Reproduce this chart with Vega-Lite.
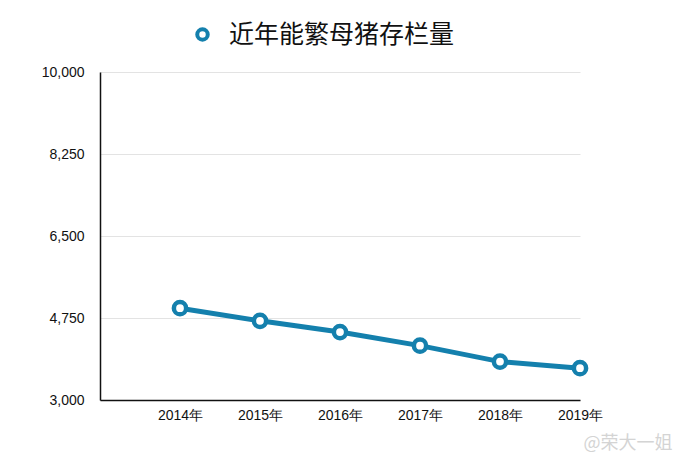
{
  "$schema": "https://vega.github.io/schema/vega-lite/v6.json",
  "background": "white",
  "autosize": "none",
  "padding": {"left": 100, "top": 72, "right": 97, "bottom": 56},
  "width": 480,
  "height": 328,
  "config": {"view": {"stroke": null}},
  "title": {
    "text": "@荣大一姐",
    "orient": "bottom",
    "anchor": "end",
    "font": "Noto Sans CJK SC",
    "fontSize": 18,
    "fontWeight": "normal",
    "color": "#d4d4d4",
    "offset": 13,
    "dx": 70
  },
  "data": {
    "values": [
      {"year": "2014年", "stock": 4960, "series": "近年能繁母猪存栏量"},
      {"year": "2015年", "stock": 4690, "series": "近年能繁母猪存栏量"},
      {"year": "2016年", "stock": 4450, "series": "近年能繁母猪存栏量"},
      {"year": "2017年", "stock": 4160, "series": "近年能繁母猪存栏量"},
      {"year": "2018年", "stock": 3820, "series": "近年能繁母猪存栏量"},
      {"year": "2019年", "stock": 3680, "series": "近年能繁母猪存栏量"}
    ]
  },
  "encoding": {
    "x": {
      "field": "year",
      "type": "ordinal",
      "scale": {"type": "point", "domain": [" ", "2014年", "2015年", "2016年", "2017年", "2018年", "2019年"], "padding": 0},
      "axis": {
        "title": null,
        "labelAngle": 0,
        "labelFont": "Liberation Sans",
        "labelFontSize": 14,
        "labelColor": "#111111",
        "labelPadding": 8,
        "ticks": false,
        "grid": false,
        "domainColor": "#111111",
        "domainWidth": 1.5
      }
    },
    "y": {
      "field": "stock",
      "type": "quantitative",
      "scale": {"domain": [3000, 10000], "nice": false},
      "axis": {
        "title": null,
        "values": [3000, 4750, 6500, 8250, 10000],
        "format": ",d",
        "labelFont": "Liberation Sans",
        "labelFontSize": 14,
        "labelColor": "#111111",
        "labelPadding": 16,
        "ticks": false,
        "grid": true,
        "gridColor": "#e3e3e3",
        "gridWidth": 1,
        "domainColor": "#111111",
        "domainWidth": 1.5
      }
    },
    "color": {
      "field": "series",
      "type": "nominal",
      "scale": {"range": ["#1480ad"]},
      "legend": {
        "title": null,
        "orient": "none",
        "legendX": 90,
        "legendY": -50,
        "padding": 0,
        "symbolType": "circle",
        "symbolSize": 110,
        "symbolFillColor": "white",
        "symbolStrokeWidth": 4,
        "labelFont": "Noto Sans CJK SC",
        "labelFontSize": 25,
        "labelColor": "#111111",
        "labelOffset": 14,
        "labelLimit": 400
      }
    }
  },
  "layer": [
    {"mark": {"type": "line", "strokeWidth": 5}},
    {"mark": {"type": "point", "filled": false, "fill": "white", "fillOpacity": 1, "strokeWidth": 4.5, "size": 150, "opacity": 1}}
  ]
}
